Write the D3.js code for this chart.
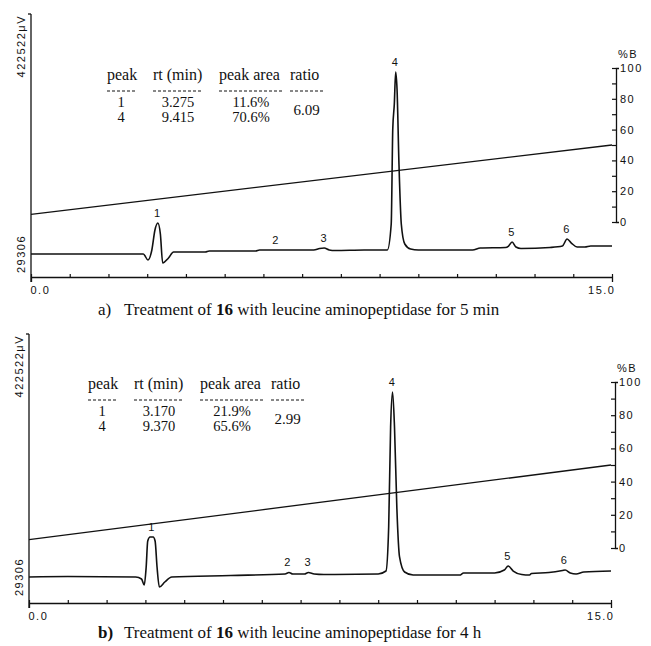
<!DOCTYPE html>
<html>
<head>
<meta charset="utf-8">
<script src="https://cdn.jsdelivr.net/npm/d3@7"></script>
<style>
  body { margin: 0; background: #fff; }
  svg { display: block; }
  .num { font-family: "Liberation Sans", Arial, sans-serif; font-size: 11px; letter-spacing: 1.5px; fill: #111; }
  .tbl { font-family: "Liberation Serif", "Times New Roman", serif; font-size: 16px; fill: #111; }
  .cap { font-family: "Liberation Serif", "Times New Roman", serif; font-size: 17px; fill: #111; }
</style>
</head>
<body>
<script>
// chromatogram a) 5 min : time (min) / detector signal (uV)
const timeA = [0, 2.9, 3.02, 3.12, 3.2, 3.275, 3.34, 3.4, 3.55, 3.68, 4.5, 4.6, 5.8, 5.9, 7.3, 7.45, 7.57, 7.7, 7.85, 8.6,
  9.2, 9.3, 9.34, 9.38, 9.415, 9.45, 9.5, 9.56, 9.65, 9.8, 10.0, 11.4, 11.6, 12.25, 12.33, 12.42, 12.52, 12.65,
  13.4, 13.72, 13.84, 13.95, 14.1, 14.3, 14.45, 15.0]
const signalA = [29300, 29300, 19500, 35900, 68600, 80100, 62100, 14600, 22800, 32600, 32600, 34200, 34200, 35900, 35900, 38300, 39100, 35900, 35000, 35900,
  35900, 78400, 234100, 275000, 327400, 299600, 176700, 78400, 45700, 37500, 35900, 35900, 39100, 40000, 42400, 49000, 40800, 38300,
  40000, 42400, 53900, 47300, 40800, 40800, 42400, 42400]

// chromatogram b) 4 h
const timeB = [0, 1.0, 2.75, 2.9, 2.97, 3.02, 3.06, 3.12, 3.2, 3.25, 3.3, 3.36, 3.5, 3.68, 5.2, 6.6, 6.7, 6.8, 7.1, 7.2, 7.35, 7.6,
  9.0, 9.2, 9.27, 9.32, 9.37, 9.42, 9.48, 9.55, 9.68, 9.9, 11.1, 11.2, 12.0, 12.25, 12.35, 12.48, 12.7, 12.9, 12.95,
  13.4, 13.75, 13.82, 13.95, 14.1, 14.3, 15.0]
const signalB = [29300, 30100, 29300, 26100, 16400, 45500, 87600, 94000, 94000, 87600, 45500, 13100, 21200, 29300, 31700, 34200, 36600, 34200, 34200, 36600, 34200, 33400,
  34200, 39000, 110200, 272000, 328600, 272000, 142600, 61700, 37400, 32500, 32500, 35800, 35800, 40600, 47100, 39000, 33400, 32500, 35000,
  36600, 39800, 40600, 35800, 34200, 37400, 39000]

// gradient %B
const gradTime = [0, 15]
const gradB = [5, 50]

const peakIds = ["1", "2", "3", "4", "5", "6"]
const peakRtA = [3.275, 6.33, 7.57, 9.415, 12.42, 13.84]
const peakRtB = [3.17, 6.68, 7.2, 9.37, 12.35, 13.8]

const tableHead = ["peak", "rt (min)", "peak area", "ratio"]
const rowsA = [["1", "3.275", "11.6%"], ["4", "9.415", "70.6%"]]
const ratioA = "6.09"
const rowsB = [["1", "3.170", "21.9%"], ["4", "9.370", "65.6%"]]
const ratioB = "2.99"

const yMin = 29306, yMax = 422522
const xTicks = d3.range(0, 16)
const bTicks = d3.range(0, 101, 10)

const W = 651, H = 646
const svg = d3.select("body").append("svg").attr("width", W).attr("height", H)

const panels = [
  {time: timeA, sig: signalA, rt: peakRtA, rows: rowsA, ratio: ratioA, letter: "a)", tail: " with leucine aminopeptidase for 5 min",
   left: 31, right: 612, top: 14, base: 254, axisY: 277, bTop: 68, bZero: 222, capY: 315, tblX: 107, tblY: 80},
  {time: timeB, sig: signalB, rt: peakRtB, rows: rowsB, ratio: ratioB, letter: "b)", tail: " with leucine aminopeptidase for 4 h",
   left: 29, right: 611, top: 334, base: 577, axisY: 603, bTop: 382, bZero: 548, capY: 638, tblX: 88, tblY: 389}
]

panels.forEach((p, pi) => {
  const g = svg.append("g")
  const x = d3.scaleLinear().domain([0, 15]).range([p.left, p.right])
  const y = d3.scaleLinear().domain([yMin, yMax]).range([p.base, p.top])
  const yb = d3.scaleLinear().domain([0, 100]).range([p.bZero, p.bTop])

  // left axis
  g.append("line").attr("x1", p.left).attr("x2", p.left).attr("y1", y(yMax)).attr("y2", p.axisY + 5)
    .attr("stroke", "#111").attr("stroke-width", 1.3)
  g.append("line").attr("x1", p.left - 3).attr("x2", p.left).attr("y1", y(yMax)).attr("y2", y(yMax))
    .attr("stroke", "#111").attr("stroke-width", 1.3)
  g.append("text").attr("class", "num").attr("transform", `translate(${p.left - 6},${y(yMax) + 1}) rotate(-90)`)
    .attr("text-anchor", "end").text("422522\u03bcV")
  g.append("text").attr("class", "num").attr("transform", `translate(${p.left - 6},${y(yMin)}) rotate(-90)`)
    .attr("text-anchor", "middle").text("29306")

  // time axis
  const xAxis = d3.axisBottom(x).tickValues(xTicks).tickSizeInner(-3).tickSizeOuter(5).tickPadding(9)
    .tickFormat(d => (d === 0 || d === 15) ? d3.format(".1f")(d) : "")
  const gx = g.append("g").attr("transform", `translate(0,${p.axisY})`).call(xAxis)
  gx.select(".domain").attr("stroke", "#111").attr("stroke-width", 1.3)
  gx.selectAll(".tick line").attr("stroke", "#111").attr("stroke-width", 1.2)
  gx.selectAll(".tick text").attr("class", "num").attr("font-size", null).attr("font-family", null)
    .attr("text-anchor", d => d === 0 ? "start" : "end")
    .attr("dx", d => d === 0 ? -1 : 3)

  // %B axis
  const bAxis = d3.axisRight(yb).tickValues(bTicks).tickSizeInner(-4).tickSizeOuter(3).tickPadding(4)
    .tickFormat(d => d % 20 === 0 ? d : "")
  const gb = g.append("g").attr("transform", `translate(${p.right + 4},0)`).call(bAxis)
  gb.select(".domain").attr("stroke", "#111").attr("stroke-width", 1.3)
  gb.selectAll(".tick line").attr("stroke", "#111").attr("stroke-width", 1.2)
  gb.selectAll(".tick text").attr("class", "num").attr("font-size", null).attr("font-family", null)
  g.append("text").attr("class", "num").attr("x", p.right + 6).attr("y", p.bTop - 10).text("%B")

  // gradient line
  const gl = d3.line().x((d, i) => x(gradTime[i])).y(d => yb(d))
  g.append("path").attr("d", gl(gradB)).attr("fill", "none").attr("stroke", "#111").attr("stroke-width", 1.3)

  // trace
  const line = d3.line().x((d, i) => x(p.time[i])).y(d => y(d)).curve(d3.curveMonotoneX)
  g.append("path").attr("d", line(p.sig)).attr("fill", "none").attr("stroke", "#111").attr("stroke-width", 1.6)

  // peak labels
  peakIds.forEach((id, i) => {
    const rt = p.rt[i]
    let top = d3.max(p.time.map((t, j) => Math.abs(t - rt) <= 0.15 ? p.sig[j] : -Infinity))
    if (!isFinite(top)) top = p.sig[d3.bisectLeft(p.time, rt)]
    g.append("text").attr("class", "num").attr("font-size", 10.5).attr("letter-spacing", 0)
      .attr("x", x(rt)).attr("y", y(top) - 6).attr("text-anchor", "middle").text(id)
  })

  // table
  const colX = [0, 46, 112, 183].map(c => c + p.tblX)
  const colW = [28, 50, 64, 33]
  const tg = g.append("g").attr("class", "tbl")
  tableHead.forEach((h, i) => {
    tg.append("text").attr("x", colX[i]).attr("y", p.tblY).text(h)
    tg.append("line").attr("x1", colX[i]).attr("x2", colX[i] + colW[i]).attr("y1", p.tblY + 11).attr("y2", p.tblY + 11)
      .attr("stroke", "#111").attr("stroke-width", 1).attr("stroke-dasharray", "3,2")
  })
  p.rows.forEach((r, ri) => {
    r.forEach((v, ci) => {
      tg.append("text").attr("x", colX[ci] + colW[ci] / 2).attr("y", p.tblY + 27 + ri * 15)
        .attr("font-size", 14.5).attr("text-anchor", "middle").text(v)
    })
  })
  tg.append("text").attr("x", colX[3] + colW[3] / 2).attr("y", p.tblY + 35).attr("font-size", 15)
    .attr("text-anchor", "middle").text(p.ratio)

  // caption
  const cap = g.append("text").attr("class", "cap").attr("y", p.capY)
  cap.append("tspan").attr("x", 98).attr("font-weight", pi === 1 ? "bold" : null).text(p.letter)
  cap.append("tspan").attr("x", 124).text("Treatment of ")
  cap.append("tspan").attr("font-weight", "bold").text("16")
  cap.append("tspan").text(p.tail)
})
</script>
</body>
</html>
